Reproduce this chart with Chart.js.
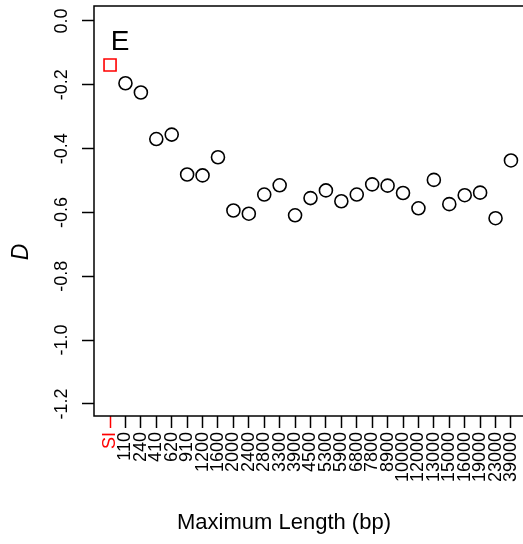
<!DOCTYPE html>
<html>
<head>
<meta charset="utf-8">
<script src="https://cdn.jsdelivr.net/npm/chart.js@4/dist/chart.umd.min.js"></script>
<style>
  html, body { margin: 0; padding: 0; background: #fff; overflow: hidden; }
  #wrap { width: 523px; height: 544px; overflow: hidden; }
</style>
</head>
<body>
<div id="wrap"><canvas id="myChart" width="530" height="544"></canvas></div>
<script>
// maximum length bins (first one is the SI reference)
const xLabels = ["SI", "110", "240", "410", "620", "910", "1200", "1600", "2000", "2400",
  "2800", "3300", "3900", "4500", "5300", "5900", "6800", "7800", "8900", "10000",
  "12000", "13000", "15000", "16000", "19000", "23000", "39000"];

// D value for each bin
const dValues = [-0.138, -0.195, -0.224, -0.370, -0.356, -0.481, -0.484, -0.427, -0.594, -0.604,
  -0.544, -0.515, -0.609, -0.555, -0.531, -0.565, -0.544, -0.512, -0.516, -0.539,
  -0.587, -0.498, -0.574, -0.546, -0.538, -0.618, -0.437];

const yTicks = [0, -0.2, -0.4, -0.6, -0.8, -1.0, -1.2];

const FONT = "'Liberation Sans', Arial, sans-serif";
const RED = "#ff0000";

// box around the plot + rotated y labels + titles
const extras = {
  id: "extras",
  afterDraw(chart) {
    const ctx = chart.ctx;
    const a = chart.chartArea;
    const y = chart.scales.y;
    ctx.save();
    ctx.strokeStyle = "#000";
    ctx.lineWidth = 1.5;
    ctx.strokeRect(a.left, a.top, a.right - a.left, a.bottom - a.top);

    ctx.fillStyle = "#000";
    ctx.font = "18px " + FONT;
    ctx.textAlign = "center";
    ctx.textBaseline = "alphabetic";
    yTicks.forEach((v) => {
      ctx.save();
      ctx.translate(66.5, y.getPixelForValue(v));
      ctx.rotate(-Math.PI / 2);
      ctx.fillText(v.toFixed(1), 0, 0);
      ctx.restore();
    });

    // y title
    ctx.save();
    ctx.font = "italic 23px " + FONT;
    ctx.textBaseline = "middle";
    ctx.translate(22, 252);
    ctx.rotate(-Math.PI / 2);
    ctx.fillText("D", 0, 0);
    ctx.restore();

    // x title
    ctx.font = "22px " + FONT;
    ctx.textBaseline = "middle";
    ctx.fillText("Maximum Length (bp)", 284, 523);

    // panel letter
    ctx.font = "28px " + FONT;
    ctx.fillText("E", 120, 42);
    ctx.restore();
  },
};

const ctx = document.getElementById("myChart").getContext("2d");

const chart = new Chart(ctx, {
  type: "scatter",
  data: {
    datasets: [
      {
        data: dValues.map((v, i) => ({ x: i + 1, y: v })),
        pointStyle: dValues.map((v, i) => (i === 0 ? "rect" : "circle")),
        pointRadius: dValues.map((v, i) => (i === 0 ? 8.5 : 6.5)),
        borderColor: dValues.map((v, i) => (i === 0 ? RED : "#000")),
        backgroundColor: "rgba(0,0,0,0)",
        borderWidth: 1.6,
      },
    ],
  },
  options: {
    responsive: false,
    animation: false,
    layout: {
      autoPadding: false,
      padding: { top: 6, right: 3, left: 0, bottom: 0 },
    },
    plugins: {
      legend: { display: false },
      tooltip: { enabled: false },
    },
    scales: {
      x: {
        type: "linear",
        min: -0.04,
        max: 28.04,
        afterFit: (s) => {
          s.height = 128;
          // rotated labels would otherwise push the plot in from the right
          s.paddingLeft = 0;
          s.paddingRight = 0;
        },
        afterBuildTicks: (s) => {
          s.ticks = xLabels.map((l, i) => ({ value: i + 1 }));
        },
        border: { display: false },
        grid: {
          drawOnChartArea: false,
          tickLength: 12,
          tickWidth: 1.5,
          tickColor: (c) => (c.index === 0 ? RED : "#000"),
        },
        ticks: {
          autoSkip: false,
          minRotation: 90,
          maxRotation: 90,
          padding: 4,
          font: { family: FONT, size: 18 },
          color: (c) => (c.index === 0 ? RED : "#000"),
          callback: (value) => xLabels[value - 1],
        },
      },
      y: {
        min: -1.238,
        max: 0.047,
        afterFit: (s) => { s.width = 94; },
        afterBuildTicks: (s) => {
          s.ticks = yTicks.map((v) => ({ value: v }));
        },
        border: { display: false },
        grid: {
          drawOnChartArea: false,
          tickLength: 12,
          tickWidth: 1.5,
          tickColor: "#000",
        },
        ticks: { display: false },
      },
    },
  },
  plugins: [extras],
});
</script>
</body>
</html>
